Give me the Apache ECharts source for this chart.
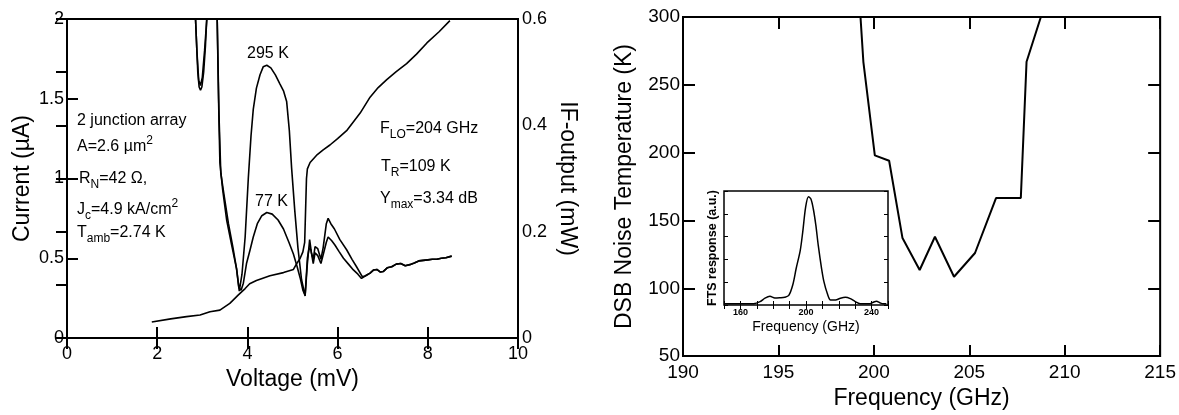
<!DOCTYPE html>
<html>
<head>
<meta charset="utf-8">
<script src="https://cdn.jsdelivr.net/npm/echarts@6/dist/echarts.min.js"></script>
<style>
html,body{margin:0;padding:0;background:#fff;}
#c{width:1179px;height:415px;}
</style>
</head>
<body>
<div id="c"></div>
<script>
// ---------- Left panel: I-V curve (Current, µA) ----------
const ivVoltage = [1.88,2.3,2.65,2.95,3.17,3.39,3.61,3.80,3.95,4.05,4.2,4.5,4.8,5.02,5.09,5.17,5.23,5.27,5.29,5.31,5.33,5.39,5.55,5.68,5.83,6.0,6.2,6.5,6.72,6.9,7.09,7.3,7.53,7.75,7.98,8.25,8.49];
const ivCurrent = [0.10,0.12,0.134,0.144,0.165,0.175,0.217,0.27,0.31,0.34,0.36,0.39,0.41,0.43,0.465,0.50,0.54,0.60,0.80,1.00,1.06,1.10,1.15,1.18,1.21,1.25,1.30,1.41,1.51,1.57,1.62,1.67,1.72,1.78,1.85,1.92,1.99];

// ---------- Left panel: IF output (mW), 295 K load ----------
const if295Voltage = [2.80,2.84,2.87,2.90,2.93,2.96,2.99,3.03,3.07,3.11,3.15,3.28,3.33,3.36,3.39,3.45,3.54,3.65,3.76,3.82,3.88,3.95,4.02,4.08,4.13,4.20,4.28,4.35,4.43,4.52,4.62,4.72,4.80,4.87,4.93,4.98,5.05,5.12,5.20,5.28,5.33,5.38,5.42,5.46,5.50,5.56,5.63,5.68,5.75,5.79,5.85,5.93,6.05,6.20,6.32,6.42,6.55,6.62,6.72,6.80,6.87,6.95,7.01,7.10,7.20,7.30,7.40,7.50,7.60,7.70,7.80,7.90,8.00,8.10,8.20,8.30,8.40,8.53];
const if295Power = [0.70,0.62,0.56,0.50,0.472,0.466,0.472,0.50,0.55,0.62,0.70,0.70,0.60,0.45,0.33,0.28,0.222,0.175,0.13,0.088,0.12,0.19,0.30,0.38,0.43,0.47,0.495,0.51,0.513,0.508,0.495,0.478,0.465,0.445,0.39,0.32,0.24,0.17,0.11,0.079,0.14,0.185,0.16,0.148,0.172,0.168,0.148,0.17,0.215,0.225,0.215,0.205,0.185,0.166,0.148,0.134,0.115,0.117,0.122,0.128,0.129,0.124,0.125,0.132,0.134,0.139,0.140,0.136,0.138,0.141,0.145,0.146,0.147,0.148,0.148,0.150,0.151,0.154];

// ---------- Left panel: IF output (mW), 77 K load ----------
const if77Voltage = [2.80,2.85,2.88,2.92,2.96,3.00,3.05,3.10,3.15,3.28,3.33,3.37,3.41,3.48,3.58,3.68,3.76,3.81,3.86,3.91,3.98,4.06,4.13,4.22,4.32,4.43,4.55,4.68,4.80,4.92,5.02,5.10,5.17,5.23,5.28,5.33,5.37,5.41,5.46,5.50,5.56,5.63,5.69,5.75,5.79,5.87,5.94,6.03,6.13,6.25,6.35,6.45,6.53,6.62,6.72,6.80,6.87,6.95,7.01,7.10,7.20,7.30,7.40,7.50,7.60,7.70,7.80,7.90,8.00,8.10,8.20,8.30,8.40,8.53];
const if77Power = [0.70,0.60,0.54,0.485,0.475,0.49,0.54,0.60,0.70,0.70,0.60,0.42,0.31,0.27,0.215,0.17,0.13,0.095,0.09,0.103,0.14,0.166,0.19,0.215,0.23,0.236,0.233,0.222,0.205,0.18,0.158,0.135,0.113,0.09,0.08,0.15,0.17,0.165,0.14,0.16,0.155,0.14,0.16,0.18,0.19,0.183,0.175,0.163,0.150,0.138,0.128,0.12,0.112,0.117,0.122,0.128,0.129,0.124,0.125,0.132,0.134,0.139,0.140,0.136,0.138,0.141,0.145,0.146,0.147,0.148,0.148,0.150,0.151,0.154];

// ---------- Right panel: DSB noise temperature ----------
const noiseFreq = [199.3,199.45,200.05,200.8,201.5,202.4,203.2,204.2,205.3,206.4,207.7,208.0,208.75];
const noiseTemp = [300,267,198,194,137,113.5,138,108.5,126,166.5,166.5,267,300];

// ---------- Inset: FTS response ----------
const ftsFreq = [150,160,168,172,175,178,181,184,187,189.5,192,194,196.5,198,199.8,201.5,203,204.5,206,207.5,209.5,211,213,215,218,221,224,227,230,233,239,241,243,245,247,249];
const ftsResp = [0.05,0.05,0.06,0.15,0.30,0.38,0.31,0.32,0.34,0.42,0.90,1.60,2.40,3.20,4.30,4.75,4.65,4.20,3.50,2.60,1.60,1.00,0.50,0.22,0.22,0.30,0.34,0.28,0.15,0.06,0.06,0.12,0.16,0.10,0.05,0.05];

// tick label lists
const insetFreqLabels = [160, 200, 240];
const zip = (a,b) => a.map((v,i)=>[v,b[i]]);

const FONT = '"Liberation Sans", Arial, Helvetica, sans-serif';
const black = '#000';

function tickAxis(extra){
  return Object.assign({
    axisLine:{show:false},
    axisTick:{show:true, inside:true, length:11, lineStyle:{color:black, width:2}},
    axisLabel:{show:false},
    splitLine:{show:false}
  }, extra);
}
function labelAxis(extra, labelExtra){
  return Object.assign({
    axisLine:{show:false},
    axisTick:{show:true, inside:true, length:11, lineStyle:{color:black, width:2}},
    axisLabel:Object.assign({show:true, color:black, fontSize:18, fontFamily:FONT}, labelExtra||{}),
    splitLine:{show:false},
    nameTextStyle:{color:black, fontSize:23, fontFamily:FONT}
  }, extra);
}

const mainRich = {
  m:{fontSize:16, fontFamily:FONT, color:black, lineHeight:24, verticalAlign:'middle'},
  s:{fontSize:12, fontFamily:FONT, color:black, lineHeight:13, verticalAlign:'bottom'},
  p:{fontSize:12, fontFamily:FONT, color:black, lineHeight:13, verticalAlign:'top'}
};
function rtext(left, top, text){
  return {type:'text', left:left, top:top, z:100, style:{text:text, rich:mainRich, fill:black}};
}

const option = {
  backgroundColor:'#fff',
  animation:false,
  grid:[
    {left:67, top:19, width:451, height:319, show:true, borderColor:black, borderWidth:2, backgroundColor:'transparent'},
    {left:683, top:17, width:480, height:346, show:true, borderColor:black, borderWidth:2, backgroundColor:'transparent'},
    {left:724, top:191, width:164, height:114, show:true, borderColor:black, borderWidth:1.5, backgroundColor:'#fff'}
  ],
  xAxis:[
    labelAxis({gridIndex:0, type:'value', position:'bottom', min:0, max:10, interval:2,
      name:'Voltage (mV)', nameLocation:'middle', nameGap:29}, {margin:7}),
    tickAxis({gridIndex:0, type:'value', position:'top', min:0, max:10, interval:2}),
    labelAxis({gridIndex:1, type:'value', position:'bottom', min:190, max:215, interval:5,
      name:'Frequency (GHz)', nameLocation:'middle', nameGap:26, nameTextStyle:{color:black, fontSize:23, fontFamily:FONT}},
      {fontSize:19, margin:7}),
    tickAxis({gridIndex:1, type:'value', position:'top', min:190, max:215, interval:5, axisTick:{show:true, inside:true, length:12, lineStyle:{color:black, width:2}}}),
    labelAxis({gridIndex:2, type:'value', position:'bottom', min:150, max:250, interval:10,
      axisTick:{show:true, inside:true, length:4, lineStyle:{color:black, width:1}},
      name:'Frequency (GHz)', nameLocation:'middle', nameGap:15, nameTextStyle:{color:black, fontSize:14, fontFamily:FONT}},
      {fontSize:9, fontWeight:'bold', margin:3, formatter:v => insetFreqLabels.includes(v) ? String(v) : ''}),
    tickAxis({gridIndex:2, type:'value', position:'top', min:150, max:250, interval:10, axisTick:{show:true, inside:true, length:4, lineStyle:{color:black, width:1}}})
  ],
  yAxis:[
    labelAxis({gridIndex:0, type:'value', position:'left', min:0, max:2, interval:0.5,
      name:'Current (µA)', nameLocation:'middle', nameGap:33, nameRotate:90}, {margin:3}),
    labelAxis({gridIndex:0, type:'value', position:'right', min:0, max:0.6, interval:0.1,
      name:'IF-output (mW)', nameLocation:'middle', nameGap:38, nameRotate:-90},
      {margin:4, formatter:v => { const k=Math.round(v*10); return k%2===0 ? String(k/10) : ''; }}),
    labelAxis({gridIndex:1, type:'value', position:'left', min:50, max:300, interval:50,
      axisTick:{show:true, inside:true, length:12, lineStyle:{color:black, width:2}},
      name:'DSB Noise Temperature (K)', nameLocation:'middle', nameGap:47, nameRotate:90,
      nameTextStyle:{color:black, fontSize:23, fontFamily:FONT}}, {fontSize:19, margin:3}),
    tickAxis({gridIndex:1, type:'value', position:'right', min:50, max:300, interval:50, axisTick:{show:true, inside:true, length:12, lineStyle:{color:black, width:2}}}),
    labelAxis({gridIndex:2, type:'value', position:'left', min:0, max:5, interval:1,
      axisTick:{show:true, inside:true, length:4, lineStyle:{color:black, width:1}},
      axisLabel:{show:false},
      name:'FTS response (a.u.)', nameLocation:'middle', nameGap:5, nameRotate:90,
      nameTextStyle:{color:black, fontSize:12.5, fontWeight:'bold', fontFamily:FONT}}),
    tickAxis({gridIndex:2, type:'value', position:'right', min:0, max:5, interval:1, axisTick:{show:true, inside:true, length:4, lineStyle:{color:black, width:1}}})
  ],
  series:[
    {type:'line', xAxisIndex:0, yAxisIndex:0, data:zip(ivVoltage, ivCurrent), showSymbol:false, clip:true,
      lineStyle:{color:black, width:1.6}},
    {type:'line', xAxisIndex:0, yAxisIndex:1, data:zip(if295Voltage, if295Power), showSymbol:false, clip:true,
      lineStyle:{color:black, width:1.6}},
    {type:'line', xAxisIndex:0, yAxisIndex:1, data:zip(if77Voltage, if77Power), showSymbol:false, clip:true,
      lineStyle:{color:black, width:1.6}},
    {type:'line', xAxisIndex:2, yAxisIndex:2, data:zip(noiseFreq, noiseTemp), showSymbol:false, clip:true,
      lineStyle:{color:black, width:2}},
    {type:'line', xAxisIndex:4, yAxisIndex:4, data:zip(ftsFreq, ftsResp), showSymbol:false, clip:true, smooth:0.3,
      lineStyle:{color:black, width:1.5}}
  ],
  graphic:[
    {type:'text', left:247, top:46, z:100, style:{text:'295 K', font:'16px '+FONT, fill:black}},
    {type:'text', left:255, top:194, z:100, style:{text:'77 K', font:'16px '+FONT, fill:black}},
    rtext(77, 113, '{m|2 junction array}'),
    rtext(77, 135, '{m|A=2.6 µm}{p|2}'),
    rtext(79, 171, '{m|R}{s|N}{m|=42 Ω,}'),
    rtext(77, 198, '{m|J}{s|c}{m|=4.9 kA/cm}{p|2}'),
    rtext(77, 225, '{m|T}{s|amb}{m|=2.74 K}'),
    rtext(380, 121, '{m|F}{s|LO}{m|=204 GHz}'),
    rtext(381, 159, '{m|T}{s|R}{m|=109 K}'),
    rtext(380, 191, '{m|Y}{s|max}{m|=3.34 dB}')
  ]
};

const chart = echarts.init(document.getElementById('c'), null, {renderer:'canvas'});
chart.setOption(option);
</script>
</body>
</html>
